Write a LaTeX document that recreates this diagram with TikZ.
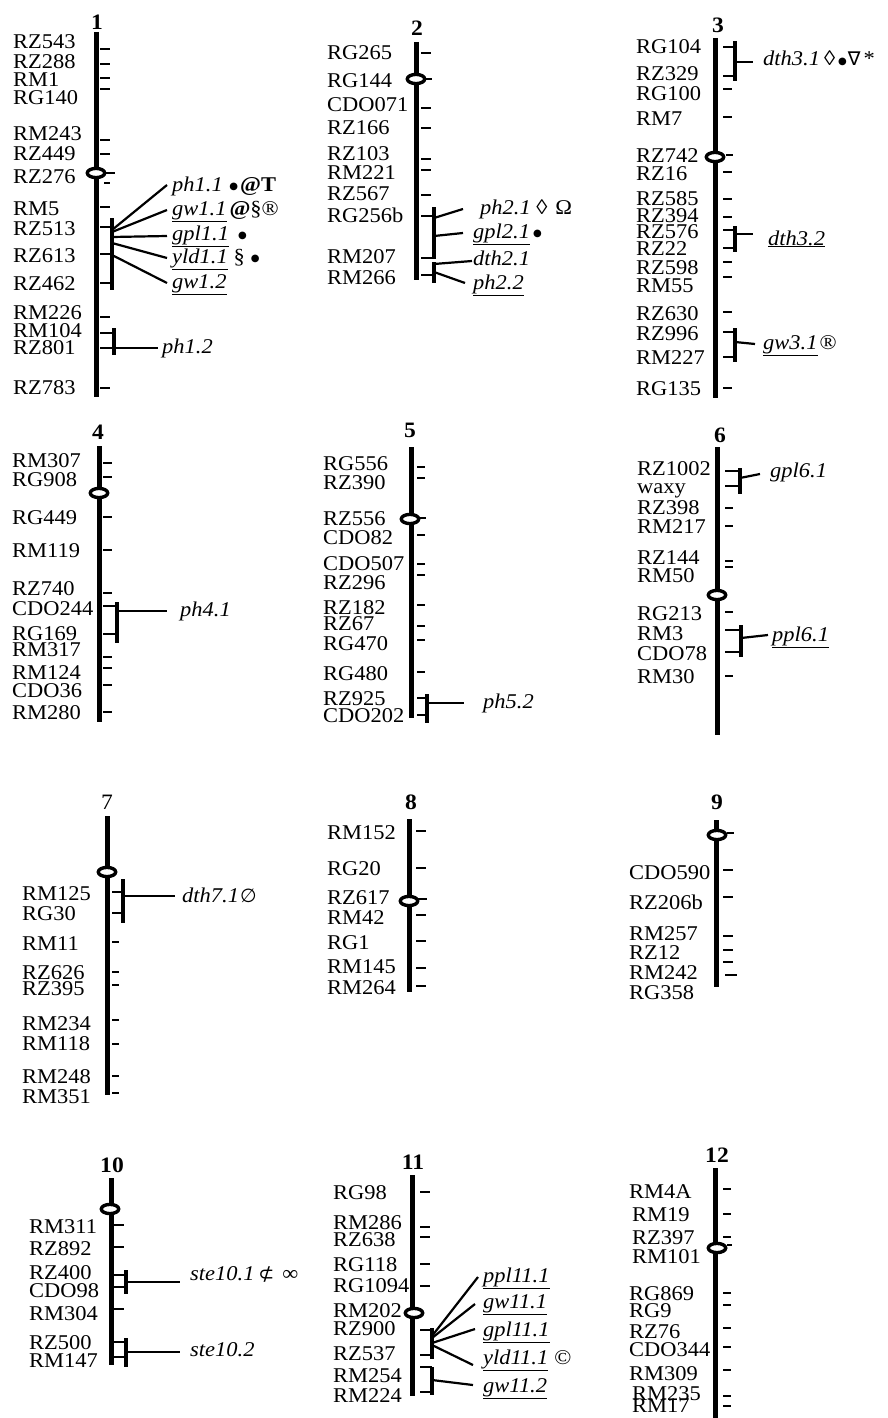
\documentclass[tikz,border=0pt]{standalone}
\usepackage{fontspec}
\setmainfont{Liberation Serif}[FakeStretch=1.07]
\newfontfamily\symf{DejaVu Sans}
\tikzset{
 chr/.style={line width=5pt},
 tk/.style={line width=2.6pt},
 qb/.style={line width=4pt},
 cn/.style={line width=2.2pt},
 cen/.style={draw=black, fill=white, line width=3.4pt},
 mk/.style={anchor=base west, yshift=-7pt, inner sep=0pt, font=\fontsize{21}{21}\selectfont},
 ql/.style={anchor=base west, yshift=-6pt, inner sep=0pt, font=\fontsize{21}{21}\selectfont\itshape},
 ttl/.style={inner sep=0pt, font=\fontsize{22}{22}\selectfont\bfseries},
}
\newcommand\sy[1]{{\upshape\symf\fontsize{19}{19}\selectfont #1}}
\newcommand\bul{{\upshape\symf\fontsize{10}{10}\selectfont\raisebox{1.5pt}{●}}}
\begin{document}
\begin{tikzpicture}[x=1pt,y=-1pt]
\useasboundingbox (0,0) rectangle (887,1418);

% ---------------- Chromosome 1
\node[ttl] (t1) at (97,22) {1};
\draw[chr] (96,32) -- (96,397);
\filldraw[cen] (96,173) ellipse [x radius=8.7,y radius=4.6];
\foreach \y in {49,64,78,89,140,154,207,317,388} \draw[tk] (100,\y) -- (110,\y);
\draw[tk] (104,183) -- (110,183);
\draw[tk] (105,173) -- (115,173);
\foreach \y in {227,254,283} \draw[tk] (100,\y) -- (112,\y);
\foreach \y in {333,348} \draw[tk] (100,\y) -- (114,\y);
\draw[qb] (112,218) -- (112,290);
\draw[qb] (114,328) -- (114,355);
\foreach \n/\y in {RZ543/42,RZ288/62,RM1/80,RG140/98,RM243/133,RZ449/153,RZ276/176,RM5/208,RZ513/228,RZ613/255,RZ462/283,RM226/312,RM104/330,RZ801/347,RZ783/387}
  \node[mk] (\n) at (13,\y) {\n};
\draw[cn] (112,230) -- (167,185);
\draw[cn] (112,232) -- (167,210);
\draw[cn] (112,237) -- (167,236);
\draw[cn] (112,243) -- (167,258);
\draw[cn] (112,255) -- (167,283);
\draw[cn] (114,348) -- (158,348);
\node[ql] (q11) at (172,185) {ph1.1 \upshape\hspace{1pt}\bul\hspace{2pt}\textbf{@T}};
\node[ql] (q12) at (172,209) {\underline{gw1.1}\upshape\hspace{3pt}\textbf{@}§®};
\node[ql] (q13) at (172,234) {\underline{gpl1.1}\upshape\hspace{9pt}\bul};
\node[ql] (q14) at (172,257) {\underline{yld1.1}\upshape\hspace{6pt}§\hspace{6pt}\bul};
\node[ql] (q15) at (172,282) {\underline{gw1.2}};
\node[ql] (q16) at (162,347) {ph1.2};

% ---------------- Chromosome 2
\node[ttl] (t2) at (417,28) {2};
\draw[chr] (416,42) -- (416,280);
\filldraw[cen] (416,79) ellipse [x radius=8.7,y radius=4.6];
\foreach \y in {53,108,128,159,170,195} \draw[tk] (421,\y) -- (431,\y);
\draw[tk] (425,79) -- (432,79);
\foreach \y in {216,258,275} \draw[tk] (421,\y) -- (434,\y);
\draw[qb] (434,207) -- (434,259);
\draw[qb] (434,262) -- (434,283);
\foreach \n/\y in {RG265/53,RG144/81,CDO071/105,RZ166/128,RZ103/153,RM221/172,RZ567/193,RG256b/215,RM207/256,RM266/277}
  \node[mk] (\n) at (327,\y) {\n};
\draw[cn] (434,218) -- (463,209);
\draw[cn] (434,236) -- (463,233);
\draw[cn] (434,264) -- (472,261);
\draw[cn] (434,272) -- (465,283);
\node[ql] (q21) at (480,208) {ph2.1 \upshape◊\hspace{8pt}Ω};
\node[ql] (q22) at (473,232) {\underline{gpl2.1}\upshape\hspace{3pt}\bul};
\node[ql] (q23) at (473,259) {dth2.1};
\node[ql] (q24) at (473,283) {\underline{ph2.2}};

% ---------------- Chromosome 3
\node[ttl] (t3) at (718,25) {3};
\draw[chr] (715,38) -- (715,398);
\filldraw[cen] (715,157) ellipse [x radius=8.7,y radius=4.6];
\foreach \y in {89,117,172,199,217,262,277,312,388} \draw[tk] (723,\y) -- (732,\y);
\draw[tk] (726,155) -- (733,155);
\foreach \y in {47,76,230,248,332,357} \draw[tk] (723,\y) -- (735,\y);
\draw[qb] (735,41) -- (735,81);
\draw[qb] (735,226) -- (735,252);
\draw[qb] (735,328) -- (735,362);
\foreach \n/\y in {RG104/47,RZ329/74,RG100/94,RM7/118,RZ742/155,RZ16/173,RZ585/198,RZ394/215,RZ576/231,RZ22/248,RZ598/267,RM55/285,RZ630/313,RZ996/333,RM227/357,RG135/388}
  \node[mk] (\n) at (636,\y) {\n};
\draw[cn] (735,62) -- (753,62);
\draw[cn] (735,234) -- (753,234);
\draw[cn] (735,342) -- (755,344);
\node[ql] (q31) at (763,60) {dth3.1\upshape\hspace{4pt}◊\hspace{3pt}\bul\hspace{1pt}\sy{∇}\hspace{3pt}*};
\node[ql] (q32) at (768,239) {\underline{dth3.2}};
\node[ql] (q33) at (763,343) {\underline{gw3.1}\upshape\hspace{2pt}®};

% ---------------- Chromosome 4
\node[ttl] (t4) at (98,432) {4};
\draw[chr] (99,446) -- (99,722);
\filldraw[cen] (99,493) ellipse [x radius=8.7,y radius=4.6];
\foreach \y in {463,477,517,550,593,657,668,685,712} \draw[tk] (103,\y) -- (112,\y);
\foreach \y in {606,634} \draw[tk] (103,\y) -- (117,\y);
\draw[qb] (117,602) -- (117,643);
\foreach \n/\y in {RM307/460,RG908/479,RG449/517,RM119/550,RZ740/588,CDO244/608,RG169/633,RM317/649,RM124/672,CDO36/690,RM280/712}
  \node[mk] (\n) at (12,\y) {\n};
\draw[cn] (117,611) -- (167,611);
\node[ql] (q41) at (180,610) {ph4.1};

% ---------------- Chromosome 5
\node[ttl] (t5) at (410,430) {5};
\draw[chr] (411,447) -- (411,718);
\filldraw[cen] (410,519) ellipse [x radius=8.7,y radius=4.6];
\foreach \y in {467,478,535,564,575,605,626,640,672} \draw[tk] (417,\y) -- (425,\y);
\draw[tk] (420,518) -- (426,518);
\foreach \y in {698,715} \draw[tk] (417,\y) -- (427,\y);
\draw[qb] (427,694) -- (427,723);
\foreach \n/\y in {RG556/463,RZ390/482,RZ556/518,CDO82/537,CDO507/563,RZ296/582,RZ182/607,RZ67/623,RG470/643,RG480/673,RZ925/698,CDO202/715}
  \node[mk] (\n) at (323,\y) {\n};
\draw[cn] (427,703) -- (464,703);
\node[ql] (q51) at (483,702) {ph5.2};

% ---------------- Chromosome 6
\node[ttl] (t6) at (720,435) {6};
\draw[chr] (717,447) -- (717,735);
\filldraw[cen] (717,595) ellipse [x radius=8.7,y radius=4.6];
\foreach \y in {508,526,561,567,612,676} \draw[tk] (725,\y) -- (733,\y);
\foreach \y in {471,486,630,652} \draw[tk] (725,\y) -- (740,\y);
\draw[qb] (740,468) -- (740,494);
\draw[qb] (741,625) -- (741,657);
\foreach \n/\y in {RZ1002/468,waxy/486,RZ398/507,RM217/526,RZ144/557,RM50/575,RG213/613,RM3/633,CDO78/653,RM30/676}
  \node[mk] (\n) at (637,\y) {\n};
\draw[cn] (740,478) -- (760,474);
\draw[cn] (741,638) -- (768,635);
\node[ql] (q61) at (770,471) {gpl6.1};
\node[ql] (q62) at (772,635) {\underline{ppl6.1}};

% ---------------- Chromosome 7
\node[ttl, font=\fontsize{22}{22}\selectfont] (t7) at (107,802) {7};
\draw[chr] (107,816) -- (107,1095);
\filldraw[cen] (107,872) ellipse [x radius=8.7,y radius=4.6];
\foreach \y in {942,972,985,1020,1044,1076,1093} \draw[tk] (112,\y) -- (119,\y);
\foreach \y in {892,913} \draw[tk] (112,\y) -- (123,\y);
\draw[qb] (123,879) -- (123,923);
\foreach \n/\y in {RM125/893,RG30/913,RM11/943,RZ626/972,RZ395/988,RM234/1023,RM118/1043,RM248/1076,RM351/1096}
  \node[mk] (\n) at (22,\y) {\n};
\draw[cn] (123,896) -- (175,896);
\node[ql] (q71) at (182,896) {dth7.1\hspace{1pt}\sy{∅}};

% ---------------- Chromosome 8
\node[ttl] (t8) at (411,802) {8};
\draw[chr] (409,819) -- (409,992);
\filldraw[cen] (409,901) ellipse [x radius=8.7,y radius=4.6];
\foreach \y in {831,868,915,941,968,986} \draw[tk] (416,\y) -- (426,\y);
\draw[tk] (418,899) -- (427,899);
\foreach \n/\y in {RM152/832,RG20/868,RZ617/897,RM42/917,RG1/942,RM145/966,RM264/987}
  \node[mk] (\n) at (327,\y) {\n};

% ---------------- Chromosome 9
\node[ttl] (t9) at (717,802) {9};
\draw[chr] (716,820) -- (716,987);
\filldraw[cen] (717,835) ellipse [x radius=8.7,y radius=4.6];
\foreach \y in {870,897,936,950,962} \draw[tk] (723,\y) -- (733,\y);
\draw[tk] (725,975) -- (737,975);
\draw[tk] (727,833) -- (734,833);
\foreach \n/\y in {CDO590/872,RZ206b/902,RM257/933,RZ12/952,RM242/972,RG358/992}
  \node[mk] (\n) at (629,\y) {\n};

% ---------------- Chromosome 10
\node[ttl] (t10) at (112,1165) {10};
\draw[chr] (111,1178) -- (111,1365);
\filldraw[cen] (110,1209) ellipse [x radius=8.7,y radius=4.6];
\foreach \y in {1225,1247,1309} \draw[tk] (113,\y) -- (124,\y);
\foreach \y in {1275,1287,1342,1357} \draw[tk] (113,\y) -- (126,\y);
\draw[qb] (126,1270) -- (126,1294);
\draw[qb] (126,1338) -- (126,1367);
\foreach \n/\y in {RM311/1226,RZ892/1248,RZ400/1272,CDO98/1290,RM304/1313,RZ500/1342,RM147/1360}
  \node[mk] (\n) at (29,\y) {\n};
\draw[cn] (126,1282) -- (180,1282);
\draw[cn] (126,1352) -- (180,1352);
\node[ql] (q101) at (190,1274) {ste10.1\upshape\hspace{4pt}\sy{⊄}\hspace{8pt}∞};
\node[ql] (q102) at (190,1350) {ste10.2};

% ---------------- Chromosome 11
\node[ttl] (t11) at (413,1162) {11};
\draw[chr] (412,1175) -- (412,1396);
\filldraw[cen] (414,1313) ellipse [x radius=8.7,y radius=4.6];
\foreach \y in {1192,1227,1237,1264,1286} \draw[tk] (420,\y) -- (430,\y);
\foreach \y in {1330,1355,1367,1392} \draw[tk] (420,\y) -- (432,\y);
\draw[qb] (432,1328) -- (432,1359);
\draw[qb] (432,1367) -- (432,1395);
\foreach \n/\y in {RG98/1192,RM286/1222,RZ638/1239,RG118/1264,RG1094/1285,RM202/1310,RZ900/1328,RZ537/1353,RM254/1375,RM224/1395}
  \node[mk] (\n) at (333,\y) {\n};
\draw[cn] (432,1336) -- (478,1277);
\draw[cn] (432,1338) -- (475,1304);
\draw[cn] (432,1343) -- (475,1329);
\draw[cn] (432,1345) -- (473,1365);
\draw[cn] (432,1380) -- (473,1385);
\node[ql] (q111) at (483,1276) {\underline{ppl11.1}};
\node[ql] (q112) at (483,1302) {\underline{gw11.1}};
\node[ql] (q113) at (483,1330) {\underline{gpl11.1}};
\node[ql] (q114) at (483,1358) {\underline{yld11.1}\upshape\hspace{6pt}©};
\node[ql] (q115) at (483,1386) {\underline{gw11.2}};

% ---------------- Chromosome 12
\node[ttl] (t12) at (717,1155) {12};
\draw[chr] (715,1168) -- (715,1418);
\filldraw[cen] (717,1248) ellipse [x radius=8.7,y radius=4.6];
\foreach \y in {1189,1214,1237,1293,1305,1328,1347,1370,1396,1406} \draw[tk] (723,\y) -- (731,\y);
\draw[tk] (727,1245) -- (732,1245);
\foreach \n/\y in {RM4A/1191,RG869/1293,RG9/1310,RZ76/1331,CDO344/1349,RM309/1373}
  \node[mk] (\n) at (629,\y) {\n};
\foreach \n/\y in {RM19/1214,RZ397/1237,RM101/1256,RM235/1393,RM17/1405}
  \node[mk] (\n) at (632,\y) {\n};
\end{tikzpicture}
\end{document}
